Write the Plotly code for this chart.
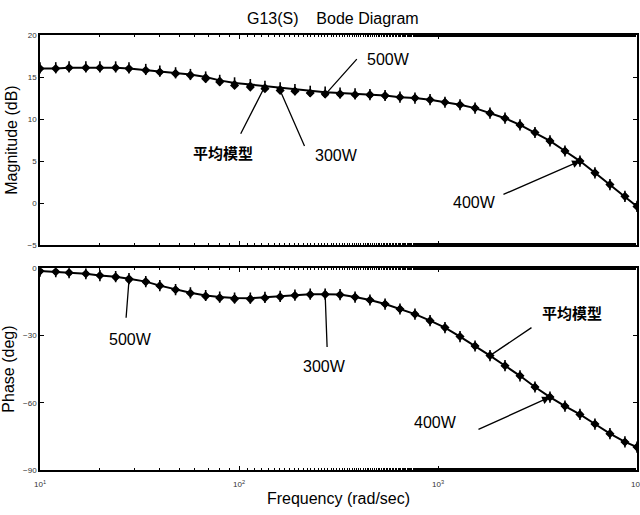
import math
import plotly.graph_objects as go

# Frequency points (rad/sec) shared by all responses
freq = [10, 12, 14, 17, 20, 24, 28, 34, 40, 48, 57, 68, 80, 95, 114, 135, 161, 191,
        228, 271, 322, 383, 455, 542, 644, 766, 912, 1084, 1290, 1535, 1825, 2171,
        2582, 3071, 3653, 4345, 5168, 6147, 7312, 8697, 10000]

# Magnitude (dB)
mag_avg = [16.0, 16.0, 16.1, 16.1, 16.1, 16.1, 16.0, 15.8, 15.6, 15.5, 15.3, 15.0,
           14.6, 14.3, 14.1, 13.9, 13.7, 13.5, 13.3, 13.2, 13.1, 13.0, 12.9, 12.8,
           12.6, 12.5, 12.3, 12.0, 11.7, 11.3, 10.7, 10.1, 9.3, 8.4, 7.4, 6.2, 5.0,
           3.6, 2.2, 0.8, -0.4]
mag_300 = [16.0, 16.0, 16.1, 16.1, 16.1, 16.1, 16.0, 15.8, 15.6, 15.4, 15.2, 14.8,
           14.4, 14.0, 13.8, 13.6, 13.4, 13.3, 13.1, 13.0, 13.0, 12.9, 12.9, 12.8,
           12.6, 12.5, 12.3, 12.0, 11.7, 11.3, 10.7, 10.1, 9.3, 8.4, 7.4, 6.2, 5.0,
           3.6, 2.2, 0.8, -0.4]
mag_400 = [16.1, 16.1, 16.2, 16.2, 16.2, 16.2, 16.1, 15.9, 15.7, 15.5, 15.3, 15.0,
           14.6, 14.3, 14.1, 13.9, 13.7, 13.5, 13.3, 13.2, 13.1, 13.0, 12.9, 12.8,
           12.6, 12.5, 12.3, 12.0, 11.7, 11.3, 10.7, 10.1, 9.3, 8.4, 7.4, 6.2, 5.0,
           3.6, 2.2, 0.8, -0.4]
mag_500 = [16.0, 16.0, 16.1, 16.1, 16.1, 16.1, 16.0, 15.8, 15.6, 15.5, 15.3, 15.0,
           14.6, 14.2, 14.0, 13.8, 13.6, 13.4, 13.1, 12.9, 12.9, 12.9, 12.8, 12.7,
           12.6, 12.5, 12.3, 12.0, 11.7, 11.3, 10.7, 10.1, 9.3, 8.4, 7.4, 6.2, 5.0,
           3.6, 2.2, 0.8, -0.4]

# Phase (deg)
ph_avg = [-1.3, -1.6, -2.0, -2.5, -3.3, -3.8, -4.7, -6.0, -7.8, -9.6, -11.0, -12.2,
          -12.9, -13.3, -13.4, -13.0, -12.6, -12.0, -11.6, -11.6, -11.8, -12.9, -14.2,
          -16.0, -18.2, -20.5, -23.4, -26.5, -30.5, -34.7, -39.0, -43.5, -48.0, -53.0,
          -57.5, -61.5, -65.2, -69.5, -73.8, -77.5, -79.8]
ph_300 = [-1.3, -1.6, -2.0, -2.5, -3.3, -3.8, -4.7, -6.0, -7.8, -9.6, -11.2, -12.5,
          -13.3, -13.8, -13.8, -13.3, -12.8, -12.2, -11.8, -11.7, -11.9, -12.9, -14.2,
          -16.0, -18.2, -20.5, -23.4, -26.5, -30.5, -34.7, -39.0, -43.5, -48.0, -53.0,
          -57.5, -61.5, -65.2, -69.5, -73.8, -77.5, -79.8]
ph_400 = [-1.3, -1.6, -2.0, -2.5, -3.3, -3.8, -4.7, -6.0, -7.8, -9.6, -11.0, -12.2,
          -12.9, -13.3, -13.4, -13.0, -12.6, -12.0, -11.6, -11.6, -11.8, -12.9, -14.2,
          -16.0, -18.2, -20.5, -23.4, -26.5, -30.5, -34.7, -39.0, -43.5, -48.0, -53.0,
          -57.5, -61.5, -65.2, -69.5, -73.8, -77.5, -79.8]
ph_500 = [-1.3, -1.6, -2.0, -2.5, -3.3, -4.3, -5.4, -6.3, -7.9, -9.6, -11.0, -12.2,
          -12.9, -13.3, -13.4, -13.0, -12.6, -12.0, -11.6, -11.6, -11.8, -12.9, -14.2,
          -16.0, -18.2, -20.5, -23.4, -26.5, -30.5, -34.7, -39.0, -43.5, -48.0, -53.0,
          -57.5, -61.5, -65.2, -69.5, -73.8, -77.5, -79.8]

# Axis ticks
x_ticks = [10, 100, 1000, 10000]
x_ticktext = ["10<sup>1</sup>", "10<sup>2</sup>", "10<sup>3</sup>", "10<sup>4</sup>"]
mag_ticks = [-5, 0, 5, 10, 15, 20]
ph_ticks = [-90, -60, -30, 0]

fig = go.Figure()

for (xa, ya, avg, s300, s400, s500) in [("x", "y", mag_avg, mag_300, mag_400, mag_500),
                                        ("x2", "y2", ph_avg, ph_300, ph_400, ph_500)]:
    fig.add_trace(go.Scatter(x=freq, y=avg, mode="lines", name="平均模型",
                             line=dict(color="black", width=2), xaxis=xa, yaxis=ya))
    fig.add_trace(go.Scatter(x=freq, y=s300, mode="markers", name="300W",
                             marker=dict(symbol="diamond", size=7, color="black"),
                             xaxis=xa, yaxis=ya))
    fig.add_trace(go.Scatter(x=freq, y=s400, mode="markers", name="400W",
                             marker=dict(symbol="line-ns", size=8,
                                         line=dict(color="black", width=1.6)),
                             xaxis=xa, yaxis=ya))
    fig.add_trace(go.Scatter(x=freq, y=s500, mode="markers", name="500W",
                             marker=dict(symbol="diamond", size=6, color="black"),
                             xaxis=xa, yaxis=ya))

tick_font = dict(family="Liberation Sans, Arial", size=8, color="#333")
axis_common = dict(showline=True, linecolor="black", linewidth=1.5, mirror="ticks",
                   ticks="inside", ticklen=4, tickcolor="black", showgrid=False,
                   zeroline=False, tickfont=tick_font, automargin=False)
x_common = dict(axis_common, type="log", range=[1, 4], tickvals=x_ticks,
                ticktext=x_ticktext, ticklabeloverflow="allow", ticklabelstandoff=6,
                minor=dict(ticks="inside", ticklen=2, tickcolor="black", showgrid=False))

lab_font = dict(family="Liberation Sans, Arial", size=16, color="black")
cjk_font = dict(family="Noto Sans CJK SC", size=15, color="black", weight="bold")

fig.update_layout(
    width=640, height=515,
    margin=dict(l=40, r=3, t=35, b=45),
    paper_bgcolor="white", plot_bgcolor="white",
    showlegend=False,
    title=dict(text="G13(S)\u00a0\u00a0\u00a0\u00a0Bode Diagram", x=0.52, xanchor="center",
               y=0.965, yanchor="middle",
               font=dict(family="Liberation Sans, Arial", size=16, color="black")),
    xaxis=dict(x_common, anchor="y", showticklabels=False),
    yaxis=dict(axis_common, domain=[0.517, 1.0], range=[-5, 20], tickvals=mag_ticks,
               title=dict(text="Magnitude (dB)", font=lab_font, standoff=6)),
    xaxis2=dict(x_common, anchor="y2",
                title=dict(text="Frequency (rad/sec)", font=lab_font, standoff=4)),
    yaxis2=dict(axis_common, domain=[0.0, 0.464], range=[-90, 0], tickvals=ph_ticks,
                title=dict(text="Phase (deg)", font=lab_font, standoff=6)),
)

# Pointer lines: (axes, series, index, dx, dy, head)
pointers = [
    ("x", "y", mag_500, 19, 33, -37, 0),
    ("x", "y", mag_avg, 15, -25, 49, 0),
    ("x", "y", mag_300, 16, 25, 57, 0),
    ("x", "y", mag_400, 36, -78, 34, 2),
    ("x2", "y2", ph_500, 6, -3, 39, 0),
    ("x2", "y2", ph_300, 19, 2, 54, 0),
    ("x2", "y2", ph_avg, 30, 43, -29, 0),
    ("x2", "y2", ph_400, 34, -73, 33, 2),
]
for xr, yr, series, k, dx, dy, head in pointers:
    fig.add_annotation(xref=xr, yref=yr, x=math.log10(freq[k]), y=series[k], text="",
                       showarrow=True, ax=dx, ay=dy, arrowhead=head, arrowsize=1.2,
                       arrowwidth=1.3, arrowcolor="black")

# Series labels
labels = [
    ("500W", 0.583, 0.943, lab_font),
    ("平均模型", 0.307, 0.729, cjk_font),
    ("300W", 0.497, 0.722, lab_font),
    ("400W", 0.727, 0.616, lab_font),
    ("500W", 0.151, 0.301, lab_font),
    ("300W", 0.477, 0.237, lab_font),
    ("平均模型", 0.891, 0.361, cjk_font),
    ("400W", 0.663, 0.110, lab_font),
]
for txt, px, py, f in labels:
    fig.add_annotation(xref="paper", yref="paper", x=px, y=py, text=txt,
                       showarrow=False, font=f, xanchor="center", yanchor="middle")

fig.write_html("out.html")
